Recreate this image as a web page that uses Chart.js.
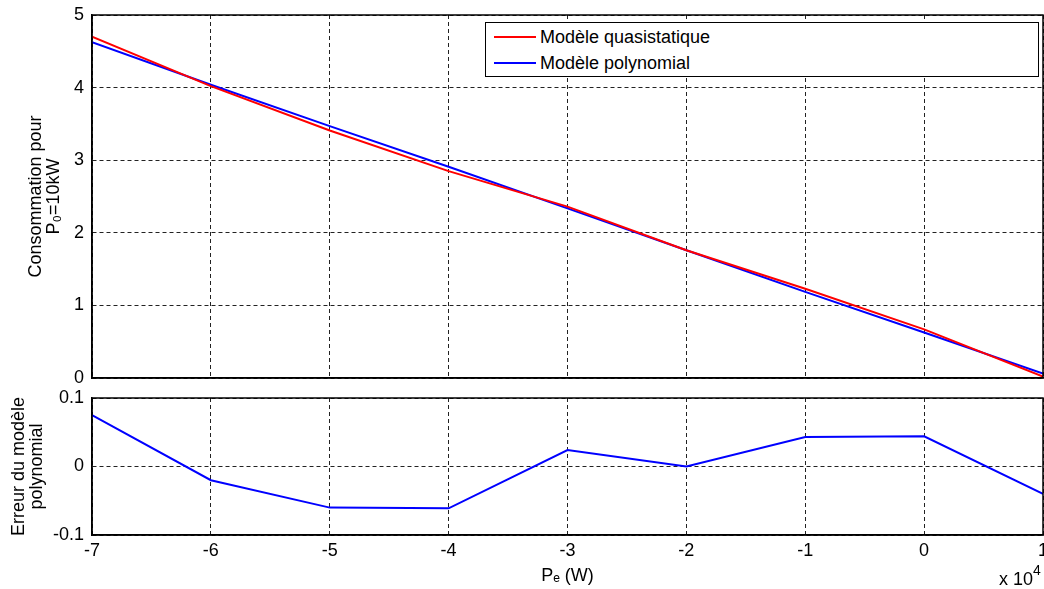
<!DOCTYPE html>
<html>
<head>
<meta charset="utf-8">
<title>Consommation</title>
<script src="https://cdn.jsdelivr.net/npm/chart.js@4.4.0/dist/chart.umd.min.js"></script>
<style>
    body { margin: 0; background: #fff; font-family: "Liberation Sans", Arial, sans-serif; }
    #page { position: relative; width: 1044px; height: 589px; overflow: hidden; }
    #chart-conso { position: absolute; left: 0; top: 0; }
    #chart-erreur { position: absolute; left: 0; top: 390px; }
    #legende { position: absolute; left: 485px; top: 22px; width: 552px; height: 53px; border: 1.5px solid #000; background: #fff; font-size: 18px; color: #000; }
    #legende .item { position: absolute; left: 0; height: 20px; line-height: 20px; }
    #legende .trait { position: absolute; left: 8px; top: 9px; width: 42px; height: 2px; }
    #legende .texte { position: absolute; left: 54px; top: 0; white-space: nowrap; }
    #exposant { position: absolute; left: 999px; top: 565px; font-size: 18px; color: #000; white-space: nowrap; }
    #exposant sup { font-size: 14px; position: relative; top: -3px; }
</style>
</head>
<body>
<div id="page">
    <canvas id="chart-conso" width="1044" height="390"></canvas>
    <canvas id="chart-erreur" width="1044" height="199"></canvas>
    <div id="legende"></div>
    <div id="exposant">x 10<sup>4</sup></div>
</div>
<script>
let puissance = [-7, -6, -5, -4, -3, -2, -1, 0, 1]; // P_e en x 10^4 W
let quasistatique = [4.70, 4.02, 3.41, 2.85, 2.36, 1.76, 1.23, 0.67, 0.02];
let polynomial = [4.625, 4.04, 3.47, 2.91, 2.336, 1.76, 1.187, 0.626, 0.06];
let erreur = [0.075, -0.020, -0.060, -0.061, 0.024, 0.000, 0.043, 0.044, -0.040];

let series = ["Modèle quasistatique", "Modèle polynomial"];
let couleurs = ["#ff0000", "#0000ff"];
let ticksConso = [0, 1, 2, 3, 4, 5];
let ticksErreur = [-0.1, 0, 0.1];

let police = { family: "'Liberation Sans', Arial, sans-serif", size: 18, lineHeight: 1 };

let cadre = {
    id: 'cadre',
    afterDraw: function (chart) {
        let a = chart.chartArea;
        let ctx = chart.ctx;
        ctx.save();
        ctx.strokeStyle = '#000';
        ctx.lineWidth = 1.5;
        ctx.strokeRect(a.left, a.top, a.right - a.left, a.bottom - a.top);
        ctx.restore();
    }
};

function points(values) {
    let res = [];
    for (let i = 0; i < puissance.length; i++) {
        res.push({ x: puissance[i], y: values[i] });
    }
    return res;
}

function axeX(showLabels, height) {
    return {
        type: 'linear',
        min: -7,
        max: 1,
        afterBuildTicks: function (scale) {
            scale.ticks = puissance.map(function (v) { return { value: v }; });
        },
        afterFit: function (scale) {
            scale.height = height;
            scale.paddingLeft = 0;
            scale.paddingRight = 0;
        },
        grid: { color: '#222', lineWidth: 1, drawTicks: false },
        border: { display: true, color: '#000', width: 1.5, dash: [4, 3] },
        ticks: { display: showLabels, color: '#000', font: police, padding: 7, maxRotation: 0 },
        title: { display: showLabels, text: 'Pₑ (W)', color: '#000', font: police, padding: { top: 0, bottom: 4 } }
    };
}

function axeY(min, max, tickValues, titre, titlePad) {
    return {
        type: 'linear',
        min: min,
        max: max,
        afterBuildTicks: function (scale) {
            scale.ticks = tickValues.map(function (v) { return { value: v }; });
        },
        afterFit: function (scale) {
            scale.width = 92;
            scale.paddingTop = 0;
            scale.paddingBottom = 0;
        },
        grid: { color: '#222', lineWidth: 1, drawTicks: false },
        border: { display: true, color: '#000', width: 1.5, dash: [4, 3] },
        ticks: {
            color: '#000',
            font: police,
            padding: 8,
            callback: function (v) { return String(Number(v.toFixed(2))); }
        },
        title: { display: true, text: titre, color: '#000', font: police, padding: { top: titlePad, bottom: 0 } }
    };
}

function setChartConso() {
    new Chart(document.getElementById("chart-conso"), {
        type: 'line',
        data: {
            datasets: [{
                label: series[0],
                data: points(quasistatique),
                borderColor: couleurs[0],
                borderWidth: 2,
                pointRadius: 0,
                fill: false
            }, {
                label: series[1],
                data: points(polynomial),
                borderColor: couleurs[1],
                borderWidth: 2,
                pointRadius: 0,
                fill: false
            }]
        },
        options: {
            responsive: false,
            animation: false,
            devicePixelRatio: 1,
            layout: { padding: { top: 15, right: 1, bottom: 0, left: 0 } },
            plugins: { legend: { display: false }, tooltip: { enabled: false } },
            scales: {
                x: axeX(false, 12),
                y: axeY(0, 5, ticksConso, ["Consommation pour", "P₀=10kW"], 27)
            }
        },
        plugins: [cadre]
    });
}

function setChartErreur() {
    new Chart(document.getElementById("chart-erreur"), {
        type: 'line',
        data: {
            datasets: [{
                label: "Erreur du modèle polynomial",
                data: points(erreur),
                borderColor: couleurs[1],
                borderWidth: 2,
                pointRadius: 0,
                fill: false
            }]
        },
        options: {
            responsive: false,
            animation: false,
            devicePixelRatio: 1,
            layout: { padding: { top: 8, right: 1, bottom: 0, left: 0 } },
            plugins: { legend: { display: false }, tooltip: { enabled: false } },
            scales: {
                x: axeX(true, 54),
                y: axeY(-0.1, 0.1, ticksErreur, ["Erreur du modèle", "polynomial"], 10)
            }
        },
        plugins: [cadre]
    });
}

function setLegende() {
    let box = document.getElementById("legende");
    for (let i = 0; i < series.length; i++) {
        let item = document.createElement("div");
        item.className = "item";
        item.style.top = (4 + i * 26) + "px";
        item.style.width = "100%";
        let trait = document.createElement("div");
        trait.className = "trait";
        trait.style.background = couleurs[i];
        let texte = document.createElement("span");
        texte.className = "texte";
        texte.textContent = series[i];
        item.appendChild(trait);
        item.appendChild(texte);
        box.appendChild(item);
    }
}

setChartConso();
setChartErreur();
setLegende();
</script>
</body>
</html>
